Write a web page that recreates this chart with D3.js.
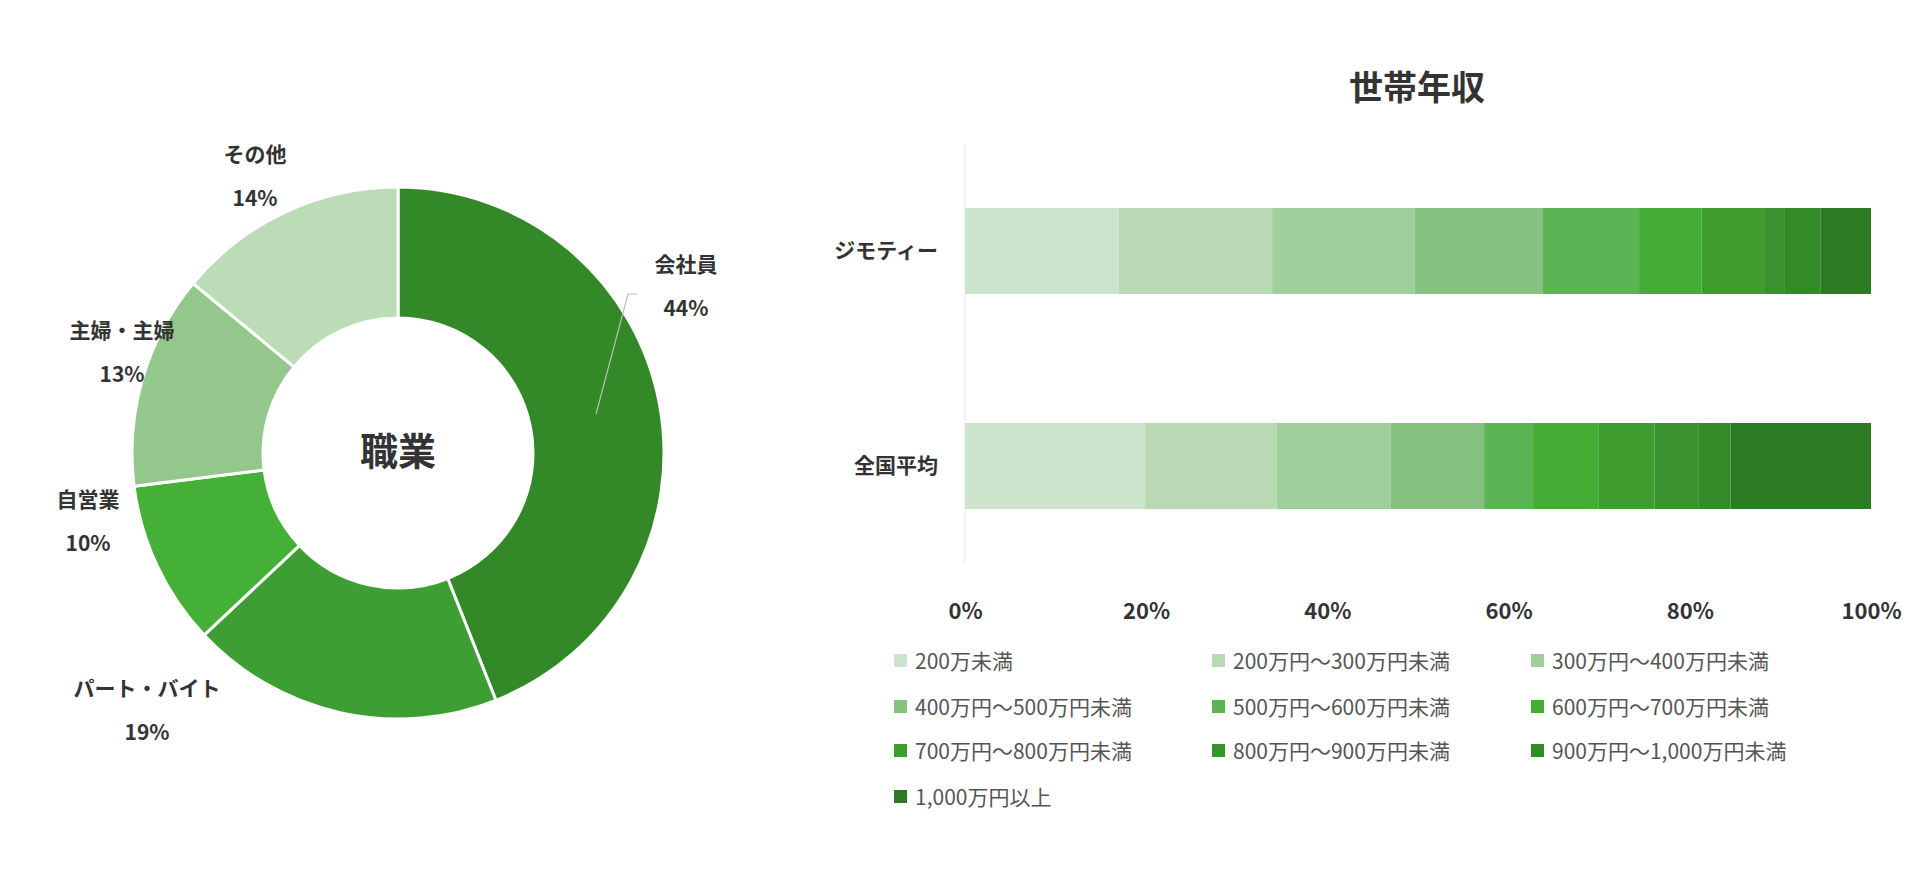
<!DOCTYPE html>
<html><head><meta charset="utf-8">
<script src="https://cdn.jsdelivr.net/npm/d3@7"></script>
<style>
body{margin:0;background:#fff;font-family:"Noto Sans CJK JP","Noto Sans",sans-serif;}
</style></head>
<body><svg id="chart" width="1920" height="871"></svg>
<script>
// --- data ---
const jobs = ['会社員', 'パート・バイト', '自営業', '主婦・主婦', 'その他'];
const jobShares = [44, 19, 10, 13, 14];
const jobColors = ['#338828', '#3d9f33', '#45b038', '#93c78b', '#bcdcb8'];

const groups = ['ジモティー', '全国平均'];
const incomeBands = ['200万未満', '200万円～300万円未満', '300万円～400万円未満',
  '400万円～500万円未満', '500万円～600万円未満', '600万円～700万円未満',
  '700万円～800万円未満', '800万円～900万円未満', '900万円～1,000万円未満', '1,000万円以上'];
const jimotyValues = [17.0, 16.9, 15.7, 14.2, 10.6, 6.9, 6.9, 2.3, 3.9, 5.6];
const nationalValues = [19.8, 14.6, 12.6, 10.3, 5.4, 7.2, 6.2, 4.9, 3.5, 15.5];
const bandColors = ['#cce3cc', '#b8d9b4', '#a1cf9c', '#87c17f', '#5cb555',
  '#43ad35', '#3f9d30', '#39922d', '#328a28', '#2c7a22'];
const xTicks = [0, 20, 40, 60, 80, 100];

const svg = d3.select('#chart');

// ─── donut ───
const cx = 398, cy = 453, rOuter = 266, rInner = 135;
const pie = d3.pie().sort(null).value(d => d)(jobShares);
const arc = d3.arc().innerRadius(rInner).outerRadius(rOuter);
const g = svg.append('g').attr('transform', `translate(${cx},${cy})`);
g.selectAll('path').data(pie).enter().append('path')
  .attr('d', arc)
  .attr('fill', (d, i) => jobColors[i])
  .attr('stroke', '#fff').attr('stroke-width', 3);

g.append('text').attr('text-anchor', 'middle').attr('dy', 12)
  .attr('font-size', 38).attr('font-weight', 700).attr('fill', '#333').text('職業');

// label anchors (layout, relative to center)
const labelPos = [[288, -181], [-251, 243], [-310, 54], [-276, -115], [-143, -291]];
pie.forEach((d, i) => {
  const [lx, ly] = labelPos[i];
  const t = g.append('text').attr('text-anchor', 'middle')
    .attr('font-size', 21).attr('font-weight', 700).attr('fill', '#333');
  t.append('tspan').attr('x', lx).attr('y', ly).text(jobs[i]);
  t.append('tspan').attr('x', lx).attr('y', ly + 44).text(jobShares[i] + '%');
});
// leader line for 会社員
g.append('polyline')
  .attr('points', '198,-39 230,-159 239,-159')
  .attr('fill', 'none').attr('stroke', '#bbb').attr('stroke-width', 1.2);

// ─── stacked bar ───
const x = d3.scaleLinear().domain([0, 100]).range([965, 1871]);
const y = d3.scaleBand().domain(groups).range([208, 509]).paddingInner(0.6).paddingOuter(0);

svg.append('text').attr('x', 1417).attr('y', 100).attr('text-anchor', 'middle')
  .attr('font-size', 34).attr('font-weight', 700).attr('fill', '#333').text('世帯年収');

svg.append('line').attr('x1', x(0)).attr('x2', x(0)).attr('y1', 144).attr('y2', 563)
  .attr('stroke', '#e6e6e6');

[jimotyValues, nationalValues].forEach((vals, gi) => {
  let acc = 0;
  const row = svg.append('g');
  vals.forEach((v, i) => {
    row.append('rect')
      .attr('x', x(acc)).attr('width', x(acc + v) - x(acc))
      .attr('y', y(groups[gi])).attr('height', y.bandwidth())
      .attr('fill', bandColors[i]);
    acc += v;
  });
  svg.append('text').attr('x', 938).attr('y', y(groups[gi]) + y.bandwidth() / 2 + 7)
    .attr('text-anchor', 'end').attr('font-size', 21).attr('font-weight', 700)
    .attr('fill', '#333').text(groups[gi]);
});

const xAxis = svg.append('g').attr('transform', 'translate(0,600)')
  .call(d3.axisBottom(x).tickValues(xTicks).tickFormat(d => d + '%').tickSize(0));
xAxis.select('.domain').remove();
xAxis.selectAll('text').attr('font-size', 22).attr('font-weight', 700)
  .attr('fill', '#333').attr('font-family', '"Noto Sans CJK JP",sans-serif');

// legend
const legendCols = [894, 1212, 1531], legendRows = [661, 707, 751, 797];
incomeBands.forEach((b, i) => {
  const lx = legendCols[i % 3], ly = legendRows[Math.floor(i / 3)];
  svg.append('rect').attr('x', lx).attr('y', ly - 7).attr('width', 13).attr('height', 13)
    .attr('fill', bandColors[i]);
  svg.append('text').attr('x', lx + 21).attr('y', ly + 8).attr('font-size', 21)
    .attr('fill', '#555').text(b);
});
</script></body></html>
